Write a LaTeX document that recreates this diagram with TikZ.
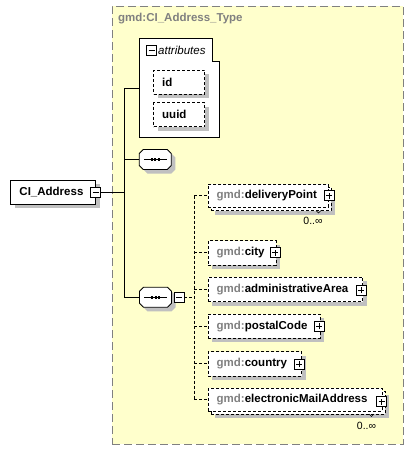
\documentclass[tikz,border=0pt]{standalone}
\usepackage{fontspec}
\setmainfont{Liberation Sans}
\definecolor{bgyellow}{RGB}{255,255,204}
\definecolor{framegray}{RGB}{128,128,128}
\definecolor{shadowc}{RGB}{192,192,192}
\definecolor{gmdgray}{RGB}{128,128,128}
\begin{document}
\begin{tikzpicture}[x=1pt,y=-1pt,font=\fontsize{11.5}{13}\selectfont,
  shadowfill/.style={fill=shadowc,draw=none},
  ebox/.style={draw=black,dash pattern=on 3pt off 2pt,fill=white,line width=0.8pt,inner sep=0pt,outer sep=0pt},
  sbox/.style={draw=black,fill=white,line width=0.8pt,inner sep=0pt,outer sep=0pt},
  pm/.style={draw=black,fill=white,line width=0.8pt,minimum width=10pt,minimum height=10pt,inner sep=0pt,outer sep=0pt},
  lbl/.style={anchor=west,inner sep=0pt,font=\fontsize{11.5}{13}\selectfont\bfseries},
  mult/.style={inner sep=0pt,font=\fontsize{10.5}{12}\selectfont},
  seqanchor/.style={draw=none,minimum width=32pt,minimum height=20pt,inner sep=0pt,outer sep=0pt},
  conn/.style={line width=0.8pt},
  dconn/.style={line width=0.8pt,dash pattern=on 3pt off 2pt}]
\useasboundingbox (0,0) rectangle (413,450);
% outer type box
\node[draw=framegray,fill=bgyellow,dash pattern=on 8pt off 4pt,line width=0.8pt,anchor=north west,minimum width=291pt,minimum height=438pt,inner sep=0pt] (type) at (111.7,5.7) {};
\node[anchor=west,inner sep=0pt,text=gmdgray,font=\fontsize{11.5}{13}\selectfont\bfseries] (typetitle) at (118,19) {gmd:CI\_Address\_Type};
% attributes box
\draw[sbox] (139.3,38.3) -- (212,38.3) -- (212,61.7) -- (219.5,61.7) -- (219.5,137) -- (139.3,137) -- cycle;
\coordinate (attr) at (139.3,88.3);
\node[pm] (attrminus) at (151.7,50) {};
\draw[line width=1pt] ([xshift=-3pt]attrminus.center) -- ([xshift=3pt]attrminus.center);
\node[anchor=west,inner sep=0pt,font=\fontsize{11.5}{13}\selectfont\itshape] (attrlbl) at (158,50) {attributes};
% id, uuid
\fill[shadowfill] (157.7,74.3) rectangle (208.7,98.3);
\node[ebox,anchor=north west,minimum width=51pt,minimum height=24pt] (id) at (153.7,70.3) {};
\node[lbl] (idl) at (162,82.3) {id};
\fill[shadowfill] (157.7,106.7) rectangle (208.7,130.7);
\node[ebox,anchor=north west,minimum width=51pt,minimum height=24pt] (uuid) at (153.7,102.7) {};
\node[lbl] (uuidl) at (162,114.7) {uuid};
% CI_Address
\fill[shadowfill] (14.7,184.3) rectangle (99.7,208);
\node[sbox,anchor=north west,minimum width=85pt,minimum height=23.7pt] (ci) at (10.7,180.3) {};
\node[lbl] (cil) at (19.3,192.2) {CI\_Address};
\node[pm] (ciminus) at (95.7,192.5) {};
\draw[line width=1pt] ([xshift=-3pt]ciminus.center) -- ([xshift=3pt]ciminus.center);
% trunk
\coordinate (trtop) at (124.3,88.3);
\coordinate (trci) at (124.3,192.5);
\coordinate (trs1) at (124.3,159.5);
\coordinate (trs2) at (124.3,297.3);
% sequences (octagons)
\foreach \cx/\cy in {155.3/159.5,155.5/297.3}{
  \fill[shadowfill] (\cx-8,\cy-6) -- (\cx+16,\cy-6) -- (\cx+20,\cy-2) -- (\cx+20,\cy+10) -- (\cx+16,\cy+14) -- (\cx-8,\cy+14) -- (\cx-12,\cy+10) -- (\cx-12,\cy-2) -- cycle;
  \draw[line width=0.8pt,fill=white] (\cx-12,\cy-10) -- (\cx+12,\cy-10) -- (\cx+16,\cy-6) -- (\cx+16,\cy+6) -- (\cx+12,\cy+10) -- (\cx-12,\cy+10) -- (\cx-16,\cy+6) -- (\cx-16,\cy-6) -- cycle;
  \draw[line width=1pt] (\cx-11.5,\cy) -- (\cx+11.5,\cy);
  \foreach \d in {-3.2,0,3.2}
    \fill (\cx+\d-1,\cy-1.4) rectangle (\cx+\d+1,\cy+1.4);
}
\node[seqanchor] (seq1) at (155.3,159.5) {};
\node[seqanchor] (seq2) at (155.5,297.3) {};
\node[pm] (s2minus) at (179.3,297.3) {};
\draw[line width=1pt] ([xshift=-3pt]s2minus.center) -- ([xshift=3pt]s2minus.center);
\draw[conn] (ciminus.east) -- (trci);
\draw[conn] (trtop) -- (trs2);
\draw[conn] (trtop) -- (attr);
\draw[conn] (trs1) -- (seq1.west);
\draw[conn] (trs2) -- (seq2.west);
% element boxes
% deliveryPoint (multiple)
\fill[shadowfill] (215,191) rectangle (335,214.5);
\node[ebox,anchor=north west,minimum width=120pt,minimum height=23.5pt] (dpback) at (211,187) {};
\node[ebox,anchor=north west,minimum width=120pt,minimum height=23pt] (dp) at (208.3,184) {};
\node[lbl] (dpl) at (216.5,195.5) {\textcolor{gmdgray}{gmd:}deliveryPoint};
\node[pm] (dpplus) at (329,195.7) {};
\draw[line width=0.6pt] (316,210.5) -- (318.5,213) -- (321,210.5);
\node[mult] (dpm) at (313,221) {0..∞};
% city
\fill[shadowfill] (212.3,244.7) rectangle (280,269);
\node[ebox,anchor=north west,minimum width=67.7pt,minimum height=24.3pt] (city) at (208.3,240.7) {};
\node[lbl] (cityl) at (216.5,252.8) {\textcolor{gmdgray}{gmd:}city};
\node[pm] (cityplus) at (275,252.5) {};
% administrativeArea
\fill[shadowfill] (212.3,281.3) rectangle (366.7,305.7);
\node[ebox,anchor=north west,minimum width=154.4pt,minimum height=24.4pt] (adm) at (208.3,277.3) {};
\node[lbl] (adml) at (216.5,289.5) {\textcolor{gmdgray}{gmd:}administrativeArea};
\node[pm] (admplus) at (361,290) {};
% postalCode
\fill[shadowfill] (212.3,318) rectangle (324,342.3);
\node[ebox,anchor=north west,minimum width=111.7pt,minimum height=24.3pt] (pc) at (208.3,314) {};
\node[lbl] (pcl) at (216.5,326.2) {\textcolor{gmdgray}{gmd:}postalCode};
\node[pm] (pcplus) at (319,326) {};
% country
\fill[shadowfill] (212.3,355.7) rectangle (305.7,380);
\node[ebox,anchor=north west,minimum width=93.4pt,minimum height=24.3pt] (co) at (208.3,351.7) {};
\node[lbl] (col) at (216.5,363.8) {\textcolor{gmdgray}{gmd:}country};
\node[pm] (coplus) at (299,364.3) {};
% electronicMailAddress (multiple)
\fill[shadowfill] (215,395.3) rectangle (389,418);
\node[ebox,anchor=north west,minimum width=174pt,minimum height=22.7pt] (emback) at (211,391.3) {};
\node[ebox,anchor=north west,minimum width=174pt,minimum height=22.7pt] (em) at (208.3,388.3) {};
\node[lbl] (eml) at (216.5,399.6) {\textcolor{gmdgray}{gmd:}electronicMailAddress};
\node[pm] (emplus) at (381.7,401.7) {};
\draw[line width=0.6pt] (369,414) -- (371.5,416.5) -- (374,414);
\node[mult] (emm) at (366.5,426) {0..∞};
% plus signs
\foreach \p in {dpplus,cityplus,admplus,pcplus,coplus,emplus}{
  \draw[line width=1pt] ([xshift=-3pt]\p.center) -- ([xshift=3pt]\p.center);
  \draw[line width=1pt] ([yshift=-3pt]\p.center) -- ([yshift=3pt]\p.center);
}
% dashed connectors
\coordinate (bus) at (194,297.3);
\draw[dconn] (s2minus.east) -- (bus);
\draw[dconn] (dp.west -| bus) -- (em.west -| bus);
\foreach \e in {dp,city,adm,pc,co,em}
  \draw[dconn] (\e.west -| bus) -- (\e.west);
\end{tikzpicture}
\end{document}
